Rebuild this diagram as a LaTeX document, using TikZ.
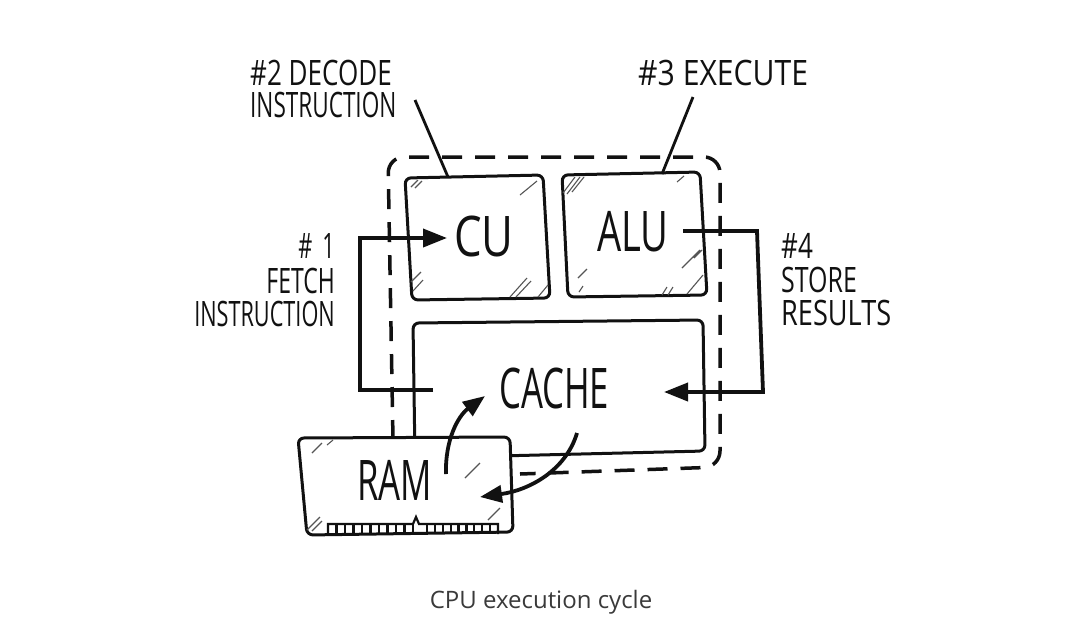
\documentclass[tikz,border=0pt]{standalone}
\usepackage{fontspec}
\usepackage{graphicx}
\usetikzlibrary{arrows.meta}
\newfontfamily\hand[FakeStretch=0.62]{Open Sans}
\newfontfamily\capfont{Open Sans}
\newcommand{\hw}[2]{\scalebox{#1}[1]{#2}}
\definecolor{ink}{HTML}{111111}
\definecolor{hatch}{HTML}{555555}
\definecolor{captext}{HTML}{3A3A3A}
\tikzset{
  boxline/.style={draw=ink, line width=3pt, rounded corners=6pt, fill=white},
  dashbox/.style={draw=ink, line width=3.5pt, dash pattern=on 20pt off 13pt, rounded corners=16pt},
  flow/.style={draw=ink, line width=3.8pt, -{Triangle[length=24pt,width=18pt]}},
  leader/.style={draw=ink, line width=2.8pt},
  hatchmark/.style={draw=hatch, line width=1.1pt},
  teeth/.style={draw=ink, line width=2.2pt},
  small/.style={font=\hand\fontsize{35}{35}\selectfont, text=ink, inner sep=0pt},
  big/.style={font=\hand\fontsize{56}{56}\selectfont, text=ink, inner sep=0pt},
}
\begin{document}
\begin{tikzpicture}[x=1pt,y=-1pt]
\useasboundingbox[fill=white] (0,0) rectangle (1080,641);

% dashed CPU outline
\draw[dashbox] (393,440) -- (388,157) -- (720,157) -- (720,467) -- (520,474);

% CU box
\draw[boxline] (405,178) -- (543,175) -- (550,298) -- (412,300) -- cycle;
% ALU box
\draw[boxline] (562,175) -- (700,172) -- (707,295) -- (568,297) -- cycle;
% CACHE box
\draw[boxline] (413,323) -- (703,320) -- (705,451) -- (415,458) -- cycle;

% hatch marks
\draw[hatchmark] (411,187) -- (418,180) (415,188) -- (422,181);
\draw[hatchmark] (520,195) -- (537,181);
\draw[hatchmark] (411,282) -- (421,272) (413,291) -- (423,280);
\draw[hatchmark] (510,297) -- (527,278) (516,297) -- (531,281) (538,297) -- (548,285);
\draw[hatchmark] (563,193) -- (575,177) (567,194) -- (580,177) (572,192) -- (584,177);
\draw[hatchmark] (677,182) -- (684,176);
\draw[hatchmark] (682,268) -- (700,250) (694,258) -- (702,250);
\draw[hatchmark] (578,278) -- (587,269) (579,292) -- (583,286);
\draw[hatchmark] (687,294) -- (703,275) (662,295) -- (667,287) (668,295) -- (673,287);

% RAM box with contact strip
\draw[boxline] (298,438) -- (510,437) -- (513,532) -- (307,535) -- cycle;
\draw[teeth] (328,535) -- (328,524) -- (413,524) -- (416,517) -- (419,524) -- (498,524) -- (498,534);
\foreach \i in {1,...,10} {\draw[teeth] (328+\i*8.5,524) -- (328+\i*8.5,535);}
\foreach \i in {1,...,9} {\draw[teeth] (419+\i*7.9,524) -- (419+\i*7.9,534);}
\draw[hatchmark] (312,453) -- (322,443) (327,445) -- (333,440);
\draw[hatchmark] (465,478) -- (480,463);
\draw[hatchmark] (307,530) -- (320,517) (312,531) -- (322,521);
\draw[hatchmark] (488,520) -- (500,508);

% labels in boxes
\node[big, anchor=base west] (cu) at (454,256) {\hw{1.26}{CU}};
\node[big, anchor=base west] (alu) at (597,251) {\hw{1.1}{ALU}};
\node[big, anchor=base west] (cache) at (499,408) {CACHE};
\node[big, anchor=base west] (ram) at (357,500) {RAM};

% step labels
\node[small, anchor=base west] (dec1) at (250,85) {\hw{1.2}{\#2 DECODE}};
\node[small, anchor=base west] (dec2) at (250,117) {\hw{1.04}{INSTRUCTION}};
\node[small, anchor=base west] (exe) at (638,85) {\hw{1.39}{\#3 EXECUTE}};
\node[small, anchor=base east] (f1) at (335,258) {\#\hspace{10pt}1};
\node[small, anchor=base east] (f2) at (335,293) {\hw{1.06}{FETCH}};
\node[small, anchor=base east] (f3) at (335,326) {INSTRUCTION};
\node[small, anchor=base west] (s1) at (781,258) {\hw{1.2}{\#4}};
\node[small, anchor=base west] (s2) at (781,292) {\hw{1.15}{STORE}};
\node[small, anchor=base west] (s3) at (781,325) {\hw{1.25}{RESULTS}};

% connector end points
\coordinate (decA) at (415,100);
\coordinate (decB) at (448,177);
\coordinate (exeA) at (693,97);
\coordinate (exeB) at (662,174);
\coordinate (fetchS) at (433,390);
\coordinate (fetchC) at (360,390);
\coordinate (cuIn) at (447,238);
\coordinate (aluOut) at (683,231);
\coordinate (storeC1) at (757,231);
\coordinate (storeC2) at (763,392);
\coordinate (cacheIn) at (664,392);
\coordinate (ramUp) at (446,474);
\coordinate (cacheUp) at (485,396);
\coordinate (cacheDown) at (577,433);
\coordinate (ramIn) at (480,497);

% leaders
\draw[leader] (decA) -- (decB);
\draw[leader] (exeA) -- (exeB);

% fetch and store arrows
\draw[flow] (fetchS) -- (fetchC) |- (cuIn);
\draw[flow] (aluOut) -- (storeC1) -- (storeC2) -- (cacheIn);

% RAM <-> CACHE
\draw[flow, -{Triangle[length=22pt,width=17pt]}] (ramUp) .. controls (445,440) and (458,416) .. (cacheUp);
\draw[flow, -{Triangle[length=22pt,width=17pt]}] (cacheDown) .. controls (566,470) and (530,490) .. (ramIn);

% caption
\node[font=\capfont\fontsize{24}{24}\selectfont, text=captext, anchor=base] (cap) at (541,608) {CPU execution cycle};
\end{tikzpicture}
\end{document}
